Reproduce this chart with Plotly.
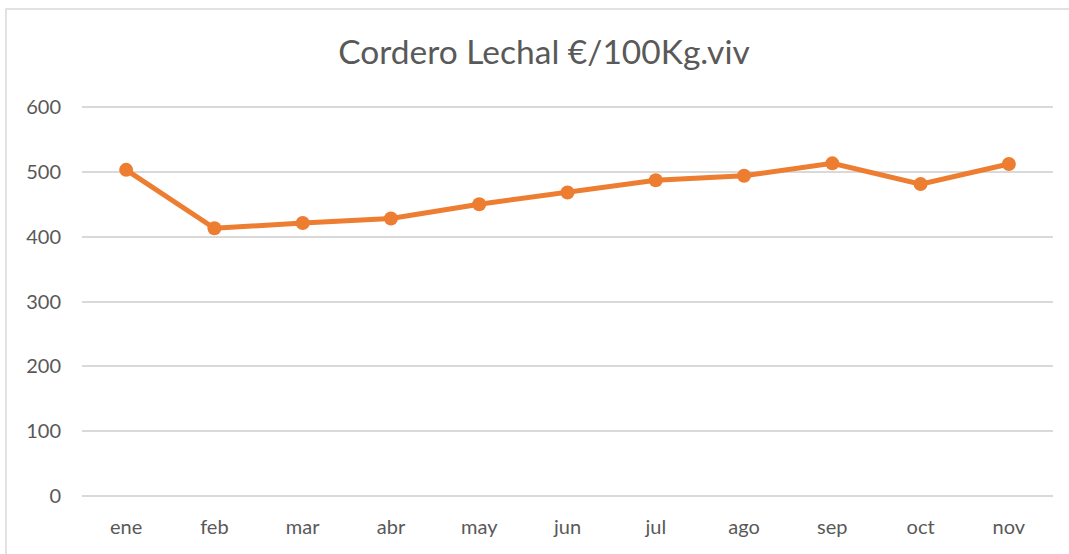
import plotly.graph_objects as go

months = ["ene", "feb", "mar", "abr", "may", "jun", "jul", "ago", "sep", "oct", "nov"]
prices = [503, 413, 421, 428, 450, 468, 487, 494, 513, 481, 512]
y_ticks = [0, 100, 200, 300, 400, 500, 600]
title_text = "Cordero Lechal €/100Kg.viv"

ORANGE = "#ED7D31"
TEXT = "#595959"
GRID = "#D9D9D9"
FONT = "Lato, Open Sans, sans-serif"

fig = go.Figure(go.Scatter(
    x=months, y=prices, mode="lines+markers",
    line=dict(color=ORANGE, width=5),
    marker=dict(color=ORANGE, size=14),
    showlegend=False, hoverinfo="x+y",
))

fig.update_layout(
    width=1069, height=554,
    margin=dict(l=82, r=16, t=105, b=56, autoexpand=False),
    paper_bgcolor="white", plot_bgcolor="white",
    font=dict(family=FONT, color=TEXT, size=20),
    title=dict(text=title_text, x=544 / 1069, xanchor="center", y=1 - 52 / 554, yanchor="middle",
               yref="container", font=dict(family=FONT, size=33.5, color=TEXT)),
    xaxis=dict(range=[-0.5, len(months) - 0.5], showgrid=False, showline=False, zeroline=False,
               ticks="", automargin=False, ticklabelstandoff=15, tickfont=dict(size=20, color=TEXT)),
    yaxis=dict(range=[-3, 603], tickvals=y_ticks, showgrid=True, gridcolor=GRID, gridwidth=1.5,
               zeroline=False, showline=False, ticks="", ticklabelstandoff=20, automargin=False,
               tickfont=dict(size=20, color=TEXT)),
    shapes=[dict(type="rect", xref="paper", yref="paper",
                 x0=(6 - 82) / 971, x1=(1075 - 82) / 971,
                 y0=(498 - 560) / 393, y1=(498 - 9) / 393,
                 line=dict(color=GRID, width=1.5), fillcolor="rgba(0,0,0,0)", layer="below")],
)

fig.write_html("out.html", config={"displayModeBar": False},
               post_script="document.body.style.margin='0px';")
